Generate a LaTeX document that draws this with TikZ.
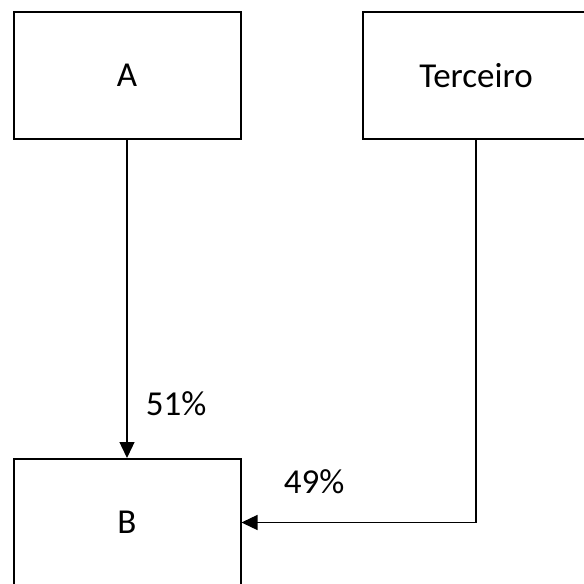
\documentclass[tikz,border=0pt]{standalone}
\usepackage{fontspec}
\setmainfont{Carlito}
\usetikzlibrary{arrows.meta,positioning}

\begin{document}
\begin{tikzpicture}[
    node distance=120pt,
    font=\fontsize{35}{42}\selectfont,
    party/.style={rectangle, draw=black, line width=2pt,
      minimum width=227pt, minimum height=127pt, inner sep=0pt},
    share/.style={black, line width=1.3pt, -{Triangle[length=16pt,width=15pt]}}
  ]

  % page frame, the right and lower boxes run off the edge
  \clip (0,0) rectangle (584pt,-584pt);

  % the holders and the company
  \node (a)        [party] at (127pt,-75.5pt) {A};
  \node (terceiro) [party, right=of a]        {Terceiro};
  \node (b)        [party, below=318pt of a]  {B};

  \coordinate (corner) at (terceiro.south |- b.east);

  \draw[share] (a) -- node[right=15pt, pos=0.83] {51\%} (b);
  \draw[share] (terceiro) -- (corner) -- node[above=25pt, pos=0.69] {49\%} (b);

\end{tikzpicture}
\end{document}
